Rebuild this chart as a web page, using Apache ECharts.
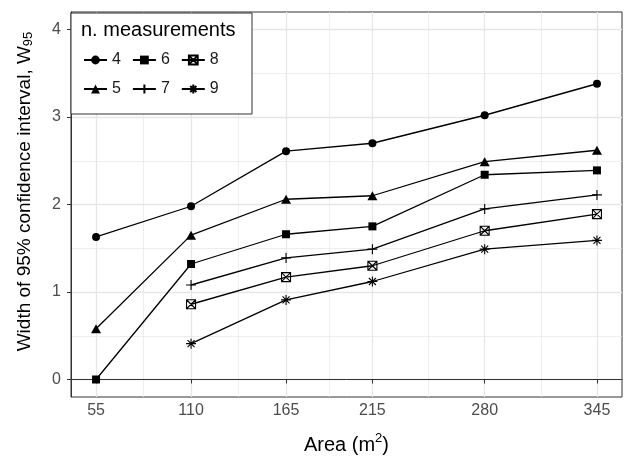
<!DOCTYPE html>
<html><head><meta charset="utf-8">
<script src="https://cdn.jsdelivr.net/npm/echarts@6/dist/echarts.min.js"></script>
<style>html,body{margin:0;padding:0;background:#fff}#c{width:626px;height:456px}</style>
</head><body><div id="c"></div>
<script>
// ---- data ----
const areas = [55, 110, 165, 215, 280, 345];
const xTicks = [55, 110, 165, 215, 280, 345];
const yTicks = [0, 1, 2, 3, 4];
const n4 = [1.63, 1.98, 2.61, 2.70, 3.02, 3.38];
const n5 = [0.58, 1.65, 2.06, 2.10, 2.49, 2.62];
const n6 = [0.00, 1.32, 1.66, 1.75, 2.34, 2.39];
const n7 = [null, 1.08, 1.39, 1.49, 1.95, 2.11];
const n8 = [null, 0.86, 1.17, 1.30, 1.70, 1.89];
const n9 = [null, 0.41, 0.91, 1.12, 1.49, 1.59];
const legendTitle = 'n. measurements';

const mid = a => a.slice(1).map((v, i) => (v + a[i]) / 2);
const xMinor = mid(xTicks);
const yMinor = mid(yTicks);
const FONT = '"Liberation Sans", Arial, sans-serif';

const SYM = {
  plus: 'path://M0,5L10,5M5,0L5,10',
  boxx: 'path://M0,0L10,0L10,10L0,10ZM0,0L10,10M10,0L0,10',
  star: 'path://M5,0L5,10M0,5L10,5M1.5,1.5L8.5,8.5M8.5,1.5L1.5,8.5'
};

function mk(name, vals, symbol, size, filled) {
  return {
    name, type: 'line', xAxisIndex: 0, yAxisIndex: 0,
    data: areas.map((a, i) => [a, vals[i]]).filter(d => d[1] != null),
    symbol, symbolSize: size, showSymbol: true, z: 3,
    lineStyle: { color: '#000', width: 1.3 },
    itemStyle: filled ? { color: '#000', borderWidth: 0 }
                      : { color: 'rgba(0,0,0,0)', borderColor: '#000', borderWidth: 1.1 },
    emphasis: { disabled: true }, animation: false
  };
}

const chart = echarts.init(document.getElementById('c'), null, { renderer: 'canvas' });
const legendCommon = {
  orient: 'horizontal', padding: 0, itemWidth: 23, itemHeight: 11, itemGap: 11, z: 100,
  textStyle: { color: '#1a1a1a', fontSize: 16, fontFamily: FONT },
  selectedMode: false
};
chart.setOption({
  animation: false,
  backgroundColor: '#fff',
  grid: { left: 71, right: 4, top: 12, bottom: 59, containLabel: false, outerBoundsMode: 'none',
    show: true, borderColor: '#333', borderWidth: 1, backgroundColor: 'transparent' },
  xAxis: [{
    type: 'value', min: 40.5, max: 359.5, position: 'bottom',
    axisLine: { show: true, lineStyle: { color: '#333', width: 1 } },
    axisTick: { show: true, customValues: xTicks, length: 4, lineStyle: { color: '#333', width: 1 } },
    axisLabel: { customValues: xTicks, color: '#4d4d4d', fontSize: 16, margin: 6, fontFamily: FONT },
    splitLine: { show: true, lineStyle: { color: '#e6e6e6', width: 1.3 } },
    name: 'Area (m{sup|2})', nameLocation: 'middle', nameGap: 35,
    nameTextStyle: { color: '#000', fontSize: 20, fontFamily: FONT,
      rich: { sup: { fontSize: 13, fontFamily: FONT, color: '#000', padding: [0, 0, 14, 0] } } }
  }, {
    type: 'value', min: 40.5, max: 359.5, position: 'top',
    axisLine: { show: false }, axisTick: { show: false, customValues: xMinor },
    axisLabel: { show: false, customValues: xMinor },
    splitLine: { show: true, lineStyle: { color: '#e6e6e6', width: 0.7 } }
  }],
  yAxis: [{
    type: 'value', min: -0.2, max: 4.2, position: 'left',
    axisLine: { show: true, lineStyle: { color: '#333', width: 1 } },
    axisTick: { show: true, customValues: yTicks, length: 4, lineStyle: { color: '#333', width: 1 } },
    axisLabel: { customValues: yTicks, color: '#4d4d4d', fontSize: 16, margin: 10, fontFamily: FONT },
    splitLine: { show: true, lineStyle: { color: '#e6e6e6', width: 1.3 } },
    name: 'Width of 95% confidence interval, W{sub|95}', nameLocation: 'middle', nameGap: 36,
    nameTextStyle: { color: '#000', fontSize: 19, fontFamily: FONT, padding: [0, 0, 0, 26],
      rich: { sub: { fontSize: 13, fontFamily: FONT, color: '#000', padding: [8, 0, 0, 0] } } }
  }, {
    type: 'value', min: -0.2, max: 4.2, position: 'right',
    axisLine: { show: false }, axisTick: { show: false, customValues: yMinor },
    axisLabel: { show: false, customValues: yMinor },
    splitLine: { show: true, lineStyle: { color: '#e6e6e6', width: 0.7 } }
  }],
  legend: [
    Object.assign({}, legendCommon, { left: 83, top: 52, data: ['4', '6', '8'] }),
    Object.assign({}, legendCommon, { left: 83, top: 81, data: ['5', '7', '9'] })
  ],
  graphic: [
    { type: 'rect', left: 70.5, top: 12.5, z: 50, shape: { width: 181, height: 101 },
      style: { fill: '#fff', stroke: '#333', lineWidth: 1 }, silent: true },
    { type: 'text', left: 81, top: 20, z: 51,
      style: { text: legendTitle, fill: '#000', font: '20px ' + FONT }, silent: true }
  ],
  series: [
    mk('4', n4, 'circle', 8, true),
    mk('5', n5, 'triangle', [10, 9], true),
    mk('6', n6, 'rect', 8, true),
    mk('7', n7, SYM.plus, 10, false),
    mk('8', n8, SYM.boxx, 9, false),
    mk('9', n9, SYM.star, 10, false)
  ]
});
</script>
</body></html>
